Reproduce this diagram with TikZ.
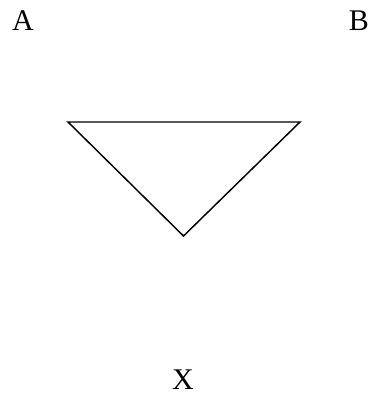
\documentclass[tikz,border=0pt]{standalone}
\usepackage{fontspec}
\setmainfont{Liberation Serif}
\begin{document}
\begin{tikzpicture}[x=0.75pt,y=-0.75pt,
  lbl/.style={anchor=base,inner sep=0pt,font=\fontsize{22.5}{27}\selectfont},
  tri/.style={draw=black,line width=1.1pt}]
\useasboundingbox (0,0) rectangle (370,393);
\node[lbl] (A) at (23,30) {A};
\node[lbl] (B) at (359,30) {B};
\node[lbl] (X) at (183,389) {X};
\coordinate (p1) at (68,122);
\coordinate (p2) at (300,122);
\coordinate (p3) at (183.5,236);
\draw[tri] (p1) -- (p2) -- (p3) -- cycle;
\end{tikzpicture}
\end{document}
